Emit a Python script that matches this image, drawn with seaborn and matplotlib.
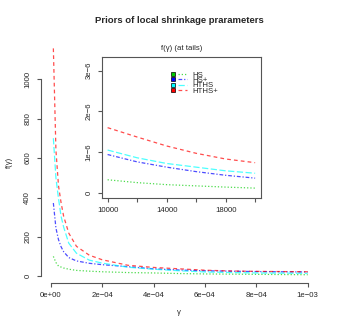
import numpy as np
import pandas as pd
import seaborn as sns
import matplotlib.pyplot as plt
from matplotlib.lines import Line2D
from matplotlib.legend_handler import HandlerTuple

# values
gamma = [1e-5, 2e-5, 3e-5, 4e-5, 5e-5, 7e-5, 1e-4, 1.5e-4, 2e-4, 3e-4,
         4e-4, 5e-4, 6e-4, 7e-4, 8e-4, 9e-4, 1e-3]
hs = [101, 70, 52, 47, 42, 36, 30, 26, 23, 19, 17, 14, 12, 11, 10, 9, 8]
hs_plus = [372, 245, 186, 150, 125, 95, 78, 66, 59, 49, 38, 32, 28, 26, 24, 23, 22]
hths = [701, 500, 395, 305, 250, 168, 117, 82, 67, 46, 36, 28, 22, 19, 17, 16, 15]
hths_plus = [1157, 640, 460, 374, 305, 219, 152, 107, 84, 56, 45, 38, 31, 27, 25, 24, 23]

tail_x = [10000, 12000, 14000, 16000, 18000, 20000]
tail_hs = [0.32, 0.25, 0.20, 0.17, 0.14, 0.115]
tail_hs_plus = [0.94, 0.76, 0.63, 0.52, 0.43, 0.36]
tail_hths = [1.05, 0.86, 0.72, 0.63, 0.54, 0.48]
tail_hths_plus = [1.60, 1.37, 1.15, 0.97, 0.83, 0.74]

priors = ["HS", "HS+", "HTHS", "HTHS+"]
colors = {"HS": "#00cc00", "HS+": "#0000ff", "HTHS": "#00ffff", "HTHS+": "#ff0000"}
dashes = {"HS": (1, 1.6), "HS+": (3, 1.5, 1, 1.5), "HTHS": (5, 2), "HTHS+": (3, 2.5)}
axis_col = "#555555"

df = pd.DataFrame({
    "gamma": gamma * 4,
    "dens": hs + hs_plus + hths + hths_plus,
    "prior": np.repeat(priors, len(gamma)),
})
tails = pd.DataFrame({
    "x": tail_x * 4,
    "dens": np.array(tail_hs + tail_hs_plus + tail_hths + tail_hths_plus) * 1e-6,
    "prior": np.repeat(priors, len(tail_x)),
})

sns.set_style("ticks")
plt.rcParams['font.family'] = ['Liberation Sans', 'DejaVu Sans']
fs = 5.6

fig = plt.figure(figsize=(3.39, 3.32), dpi=100)
ax = fig.add_axes([0.1195, 0.1476, 0.8185, 0.7292])
sns.lineplot(data=df, x="gamma", y="dens", hue="prior", style="prior",
             palette=colors, dashes=dashes, lw=0.9, alpha=0.7, legend=False, ax=ax)
ax.set_xlim(-4e-5, 1.04e-3)
ax.set_ylim(-34, 1195)
ax.spines[['top', 'right']].set_visible(False)
ax.spines['left'].set_bounds(0, 1000)
ax.spines['bottom'].set_bounds(0, 1e-3)
for s in ['left', 'bottom']:
    ax.spines[s].set_color(axis_col)
    ax.spines[s].set_linewidth(0.8)
ax.set_xticks(np.arange(0, 1.1e-3, 2e-4))
ax.set_xticklabels(["0e+00", "2e\u221204", "4e\u221204", "6e\u221204", "8e\u221204", "1e\u221203"])
ax.set_yticks(range(0, 1001, 200))
ax.set_yticklabels([str(v) for v in range(0, 1001, 200)], rotation=90, va='center')
ax.tick_params(labelsize=fs, length=3.1, width=0.8, color=axis_col, pad=3.5)
ax.set_xlabel("\u03b3", fontsize=fs, labelpad=7)
ax.set_ylabel("f(\u03b3)", fontsize=fs, labelpad=8)
ax.set_title("Priors of local shrinkage prarameters", fontsize=6.8,
             fontweight='bold', pad=13)

# inset with the tails
ax2 = fig.add_axes([0.300, 0.4036, 0.470, 0.4238])
sns.lineplot(data=tails, x="x", y="dens", hue="prior", style="prior",
             palette=colors, dashes=dashes, lw=0.9, alpha=0.7, legend=False, ax=ax2)
ax2.set_xlim(9600, 20400)
ax2.set_ylim(-0.128e-6, 3.328e-6)
for s in ax2.spines.values():
    s.set_color(axis_col)
    s.set_linewidth(0.8)
ax2.set_xticks(range(10000, 20001, 2000))
ax2.set_xticklabels(["10000", "", "14000", "", "18000", ""])
ax2.set_yticks([0, 1e-6, 2e-6, 3e-6])
ax2.set_yticklabels(["0", "1e\u22126", "2e\u22126", "3e\u22126"], rotation=90, va='center')
ax2.tick_params(labelsize=fs, length=3.1, width=0.8, color=axis_col, pad=3.5)
ax2.set_xlabel("")
ax2.set_ylabel("")
ax2.set_title("f(\u03b3) (at tails)", fontsize=fs, pad=5)

handles = [(Line2D([], [], marker='s', ls='none', mfc=colors[p], mec='black',
                   ms=3.2, mew=0.5),
            Line2D([], [], color=colors[p], ls=(0, dashes[p]), lw=0.9, alpha=0.7))
           for p in priors]
ax2.legend(handles, priors, handler_map={tuple: HandlerTuple(ndivide=2, pad=0.1)},
           loc='upper left', bbox_to_anchor=(0.42, 0.90), frameon=False,
           fontsize=fs, labelspacing=-0.28, handlelength=2.4, handletextpad=0.6,
           borderpad=0, borderaxespad=0)

fig.savefig("out.png", dpi=100)
